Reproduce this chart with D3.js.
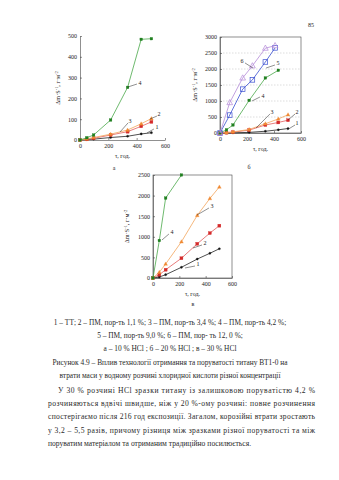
<!DOCTYPE html>
<html>
<head>
<meta charset="utf-8">
<script src="https://cdn.jsdelivr.net/npm/d3@7"></script>
<style>
  html, body { margin: 0; padding: 0; background: #fff; }
  svg text { font-family: "Liberation Serif", "DejaVu Serif", serif; }
</style>
</head>
<body>
<svg id="page" width="339" height="480"></svg>
<script>
// exposure times, h
const timesStd = [0, 48, 96, 216, 336, 432, 504];
const timesHigh = [0, 72, 168, 240, 336, 408];
const timesB4 = [0, 48, 96, 216, 336, 432];
const timesV4 = [0, 48, 96, 216];

// mass loss, g/m2 - 10 % HCl
const a1 = [0, 2, 4, 12, 18, 29, 35];
const a2 = [0, 3, 8, 24, 40, 66, 87];
const a3 = [0, 5, 12, 28, 48, 78, 103];
const a4 = [0, 11, 24, 96, 253, 484, 487];

// 20 % HCl
const b1 = [0, 2, 5, 20, 55, 100, 140];
const b2 = [0, 10, 25, 90, 250, 330, 400];
const b3 = [0, 15, 35, 110, 290, 440, 570];
const b4 = [0, 100, 250, 1020, 1720, 1960];
const b5 = [0, 560, 1370, 1660, 2220, 2660];
const b6 = [0, 950, 1720, 2100, 2650, 2730];

// 30 % HCl
const v1 = [0, 25, 80, 260, 460, 600, 710];
const v2 = [0, 80, 200, 480, 830, 1090, 1270];
const v3 = [0, 140, 340, 880, 1520, 1930, 2210];
const v4 = [0, 910, 1940, 2500];

const xTicks = [0, 200, 400, 600];

const svg = d3.select("#page");

const styles = {
    1: {line: "#222", fill: "#111", shape: "circle", size: 2.2},
    2: {line: "#e25a5a", fill: "#d42a2a", shape: "square", size: 3},
    3: {line: "#f3a45c", fill: "#f08a34", shape: "triangle", size: 3.4},
    4: {line: "#4aa84a", fill: "#1f7f1f", shape: "square", size: 2.6},
    5: {line: "#3a4fd0", fill: "none", shape: "square", size: 4.6},
    6: {line: "#b48ad8", fill: "none", shape: "triangle", size: 5.2}
};

function marker(g, st) {
    const s = st.size;
    if (st.shape === "circle") {
        g.append("circle").attr("r", s / 2);
    } else if (st.shape === "square") {
        g.append("rect").attr("x", -s / 2).attr("y", -s / 2).attr("width", s).attr("height", s);
    } else {
        g.append("path").attr("d", `M0,${-s * 0.6}L${s * 0.55},${s * 0.4}L${-s * 0.55},${s * 0.4}Z`);
    }
}

function yLabel(g, x, y) {
    const t = g.append("text")
        .attr("transform", `translate(${x},${y}) rotate(-90)`)
        .attr("text-anchor", "middle")
        .attr("font-size", 6.2)
        .attr("fill", "#222");
    t.append("tspan").text("Δm·S");
    t.append("tspan").attr("dy", -2.2).attr("font-size", 4.4).text("-1");
    t.append("tspan").attr("dy", 2.2).text(", г·м");
    t.append("tspan").attr("dy", -2.2).attr("font-size", 4.4).text("-2");
}

function drawChart(opt) {
    const g = svg.append("g");
    const x = d3.scaleLinear().domain([0, 600]).range(opt.xr);
    const y = d3.scaleLinear().domain([0, opt.ymax]).range(opt.yr);

    if (opt.grid) {
        g.append("g").selectAll("line")
            .data(opt.yTicks.slice(1, -1))
            .join("line")
            .attr("x1", opt.xr[0]).attr("x2", opt.xr[1])
            .attr("y1", d => y(d)).attr("y2", d => y(d))
            .attr("stroke", "#bbb").attr("stroke-width", 0.5)
            .attr("stroke-dasharray", "1.5,1.5");
    }

    const xAxis = g.append("g")
        .attr("transform", `translate(0,${opt.yr[0]})`)
        .call(d3.axisBottom(x).tickValues(xTicks).tickFormat(d3.format("d"))
            .tickSizeInner(-2).tickSizeOuter(0).tickPadding(4));
    const yAxis = g.append("g")
        .attr("transform", `translate(${opt.xr[0]},0)`)
        .call(d3.axisLeft(y).tickValues(opt.yTicks).tickFormat(d3.format("d"))
            .tickSizeInner(-2).tickSizeOuter(0).tickPadding(3));
    [xAxis, yAxis].forEach(a => {
        a.selectAll("path, line").attr("stroke", "#444").attr("stroke-width", 0.6);
        a.selectAll("text").attr("font-size", 6).attr("fill", "#222")
            .attr("font-family", "Liberation Serif");
    });

    if (opt.box) {
        g.append("rect")
            .attr("x", opt.xr[0]).attr("y", opt.yr[1])
            .attr("width", opt.xr[1] - opt.xr[0]).attr("height", opt.yr[0] - opt.yr[1])
            .attr("fill", "none").attr("stroke", "#444").attr("stroke-width", 0.6);
    }

    const line = d3.line().x(d => x(d[0])).y(d => y(d[1]));
    opt.series.forEach(s => {
        const st = styles[s.id];
        const pts = d3.zip(s.t, s.v);
        g.append("path").datum(pts)
            .attr("fill", "none").attr("stroke", st.line).attr("stroke-width", 0.8)
            .attr("d", line);
        g.append("g")
            .attr("fill", st.fill)
            .attr("stroke", st.fill === "none" ? st.line : st.fill)
            .attr("stroke-width", st.fill === "none" ? 0.7 : 0.3)
            .selectAll("g")
            .data(pts)
            .join("g")
            .attr("transform", d => `translate(${x(d[0])},${y(d[1])})`)
            .each(function () { marker(d3.select(this), st); });
    });

    // curve numbers with leader lines
    opt.notes.forEach(n => {
        g.append("line")
            .attr("x1", x(n.from[0])).attr("y1", y(n.from[1]))
            .attr("x2", x(n.to[0])).attr("y2", y(n.to[1]))
            .attr("stroke", "#222").attr("stroke-width", 0.5);
        g.append("text")
            .attr("x", x(n.at[0])).attr("y", y(n.at[1]))
            .attr("dy", "0.35em").attr("text-anchor", "middle")
            .attr("font-size", 6).attr("fill", "#222")
            .text(n.id);
    });

    g.append("text")
        .attr("x", (opt.xr[0] + opt.xr[1]) / 2).attr("y", opt.yr[0] + 18)
        .attr("text-anchor", "middle").attr("font-size", 6).attr("fill", "#222")
        .text("τ, год.");
    g.append("text")
        .attr("x", opt.tag[0]).attr("y", opt.tag[1])
        .attr("text-anchor", "middle").attr("font-size", 6).attr("fill", "#222")
        .text(opt.name);
    yLabel(g, opt.xr[0] - opt.labelGap, (opt.yr[0] + opt.yr[1]) / 2);
}

svg.append("rect").attr("width", 339).attr("height", 480).attr("fill", "#fff");

drawChart({
    name: "а", xr: [80, 165], yr: [140, 36], ymax: 500, labelGap: 20,
    yTicks: [0, 100, 200, 300, 400, 500], box: false, grid: false, tag: [114, 170],
    series: [
        {id: 1, t: timesStd, v: a1},
        {id: 2, t: timesStd, v: a2},
        {id: 3, t: timesStd, v: a3},
        {id: 4, t: timesStd, v: a4}
    ],
    notes: [
        {id: "4", at: [423, 274], from: [402, 269], to: [339, 255]},
        {id: "3", at: [353, 91], from: [339, 82], to: [282, 38]},
        {id: "2", at: [558, 125], from: [543, 115], to: [494, 101]},
        {id: "1", at: [543, 62], from: [522, 53], to: [473, 34]}
    ]
});

drawChart({
    name: "б", xr: [220, 301], yr: [133, 37], ymax: 3000, labelGap: 23,
    yTicks: [0, 500, 1000, 1500, 2000, 2500, 3000], box: true, grid: true, tag: [249, 169],
    series: [
        {id: 1, t: timesStd, v: b1},
        {id: 2, t: timesStd, v: b2},
        {id: 3, t: timesStd, v: b3},
        {id: 4, t: timesB4, v: b4},
        {id: 5, t: timesHigh, v: b5},
        {id: 6, t: timesHigh, v: b6}
    ],
    notes: [
        {id: "6", at: [163, 2250], from: [185, 2190], to: [244, 2030]},
        {id: "5", at: [430, 2190], from: [407, 2125], to: [341, 2030]},
        {id: "4", at: [318, 1156], from: [296, 1125], to: [237, 1000]},
        {id: "3", at: [385, 656], from: [370, 594], to: [267, 156]},
        {id: "2", at: [570, 656], from: [556, 594], to: [504, 406]},
        {id: "1", at: [570, 312], from: [556, 250], to: [496, 94]}
    ]
});

drawChart({
    name: "в", xr: [153, 232], yr: [278, 175], ymax: 2500, labelGap: 24,
    yTicks: [0, 500, 1000, 1500, 2000, 2500], box: true, grid: false, tag: [193, 306],
    series: [
        {id: 1, t: timesStd, v: v1},
        {id: 2, t: timesStd, v: v2},
        {id: 3, t: timesStd, v: v3},
        {id: 4, t: timesV4, v: v4}
    ],
    notes: [
        {id: "4", at: [144, 1117], from: [121, 1068], to: [68, 922]},
        {id: "3", at: [448, 1748], from: [425, 1699], to: [334, 1529]},
        {id: "2", at: [395, 850], from: [372, 801], to: [304, 728]},
        {id: "1", at: [342, 340], from: [319, 291], to: [243, 243]}
    ]
});

// page number
svg.append("text").attr("x", 311).attr("y", 27).attr("text-anchor", "middle")
    .attr("font-size", 6).attr("fill", "#222").text("85");

// caption
const captionLines = [
    "1 – ТТ; 2 – ПМ, пор-ть 1,1 %; 3 – ПМ, пор-ть 3,4 %; 4 – ПМ, пор-ть 4,2 %;",
    "5 – ПМ, пор-ть 9,0 %; 6 – ПМ, пор- ть 12, 0 %;",
    "а – 10 % НСl ; б – 20 % НСl ; в – 30 % НСl",
    "Рисунок 4.9 – Вплив технології отримання та поруватості титану ВТ1-0 на",
    "втрати маси у водному розчині хлоридної кислоти різної концентрації"
];
svg.append("g").selectAll("text")
    .data(captionLines)
    .join("text")
    .attr("x", 170).attr("y", (d, i) => 325 + i * 13.2)
    .attr("text-anchor", "middle").attr("font-size", 7.4).attr("fill", "#2a2a2a")
    .text(d => d);

// paragraph, justified between the margins
const paraLines = [
    "У 30 % розчині  НСl  зразки титану із залишковою поруватістю 4,2 %",
    "розчиняються вдвічі швидше, ніж у 20 %-ому розчині: повне розчинення",
    "спостерігаємо після 216 год експозиції. Загалом, корозійні втрати зростають",
    "у 3,2 – 5,5 разів, причому різниця між зразками різної поруватості та між",
    "поруватим матеріалом та отриманим традиційно посилюється."
];
const para = svg.append("g");
paraLines.forEach((s, i) => {
    const x0 = i === 0 ? 58 : 48;
    const t = para.append("text")
        .attr("x", x0).attr("y", 393 + i * 13.2)
        .attr("font-size", 7.6).attr("fill", "#2a2a2a")
        .text(s);
    if (i < paraLines.length - 1) {
        t.attr("textLength", 315 - x0).attr("lengthAdjust", "spacing");
    }
});
</script>
</body>
</html>
